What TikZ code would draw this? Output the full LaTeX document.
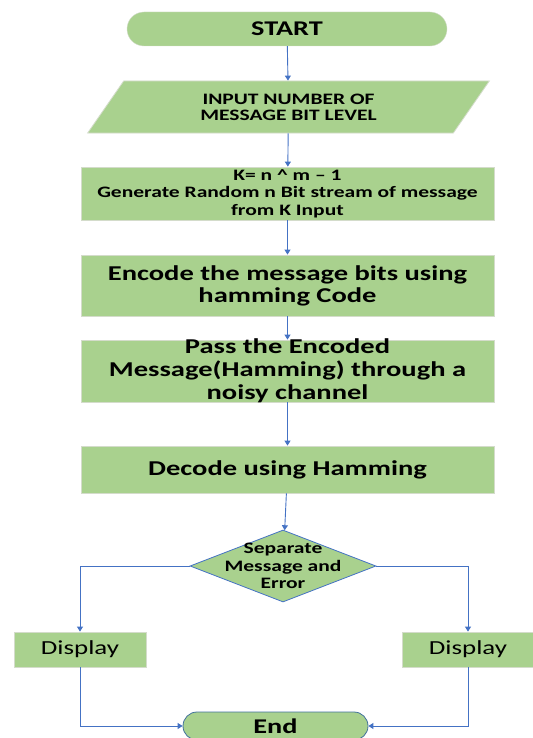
\documentclass[tikz,border=0pt]{standalone}
\usepackage{fontspec}
\setmainfont[FakeStretch=1.35]{Carlito}
\usetikzlibrary{shapes.geometric,shapes.misc,arrows.meta}
\definecolor{boxgreen}{HTML}{A9D18E}
\definecolor{linkblue}{HTML}{4472C4}
\definecolor{rimblue}{HTML}{41719C}
\definecolor{rimgrey}{HTML}{D4DCCB}
\newcommand{\fsz}[2]{\fontsize{#1}{#2}\selectfont}

\begin{document}
\begin{tikzpicture}[x=1bp, y=-1bp,
		link/.style={draw=linkblue, line width=0.9bp, -{Triangle[length=5bp, width=6bp]}},
		box/.style={rectangle, draw=rimgrey, line width=0.8bp, fill=boxgreen, minimum width=413bp, inner sep=0pt, align=center},
		terminal/.style={rounded rectangle, fill=boxgreen, inner sep=0pt, font=\bfseries\fsz{21}{22}},
		inbox/.style={trapezium, trapezium left angle=54, trapezium right angle=126, trapezium stretches=true, fill=boxgreen, draw=rimgrey, line width=0.8bp, minimum width=403bp, minimum height=52bp, inner sep=0pt, align=center},
		decision/.style={diamond, fill=boxgreen, draw=linkblue, line width=0.8bp, minimum width=186bp, minimum height=72bp, inner sep=0pt, aspect=2.6},
		txt/.style={align=center, inner sep=0pt}
	]
	\useasboundingbox (0, 0) rectangle (533, 738);

	\node[terminal, draw=rimgrey, minimum width=320bp, minimum height=34bp]	(start) at (287, 29) {START};
	\node[inbox, font=\bfseries\fsz{16}{16}]	(inp) at (288.5, 107) {INPUT NUMBER OF\\MESSAGE BIT LEVEL};
	\node[box, minimum height=53bp, font=\bfseries\fsz{16}{17.5}]	(gen) at (287.5, 193.5) {K= n \^{} m -- 1\\Generate Random n Bit stream of message\\from K Input};
	\node[box, minimum height=61bp, font=\bfseries\fsz{21.2}{22}]	(enc) at (287.5, 285.5) {Encode the message bits using\\hamming Code};
	\node[box, minimum height=62bp]	(pass) at (287.5, 371) {};
	\node[txt, font=\bfseries\fsz{21.2}{23}]	(passtxt) at (pass) {Pass the Encoded\\Message(Hamming) through a\\noisy channel};
	\node[box, minimum height=47bp, font=\bfseries\fsz{21.2}{22}]	(dec) at (287.5, 469.5) {Decode using Hamming};
	\node[decision]	(sep) at (283, 566) {};
	\node[txt, font=\bfseries\fsz{16}{17.7}]	(septxt) at (sep) {Separate\\Message and\\Error};
	\node[box, minimum width=132bp, minimum height=35bp, font=\fsz{20}{22}]	(displ) at (80, 649.5) {Display};
	\node[box, minimum width=132bp, minimum height=35bp, font=\fsz{20}{22}]	(dispr) at (468, 649.5) {Display};
	\node[terminal, draw=rimblue, line width=0.8bp, minimum width=185bp, minimum height=28bp]	(end) at (275.5, 726) {End};

	\draw[link]	(start) -- (inp);
	\draw[link]	(inp) -- (gen);
	\draw[link]	(gen) -- (enc);
	\draw[link]	(enc) -- (pass);
	\draw[link]	(pass) -- (dec);
	\draw[link]	(dec) -- (sep);
	\draw[link]	(sep.west) -| (displ.north);
	\draw[link]	(sep.east) -| (dispr.north);
	\draw[link]	(displ.south) |- (end.west);
	\draw[link]	(dispr.south) |- (end.east);
\end{tikzpicture}
\end{document}
